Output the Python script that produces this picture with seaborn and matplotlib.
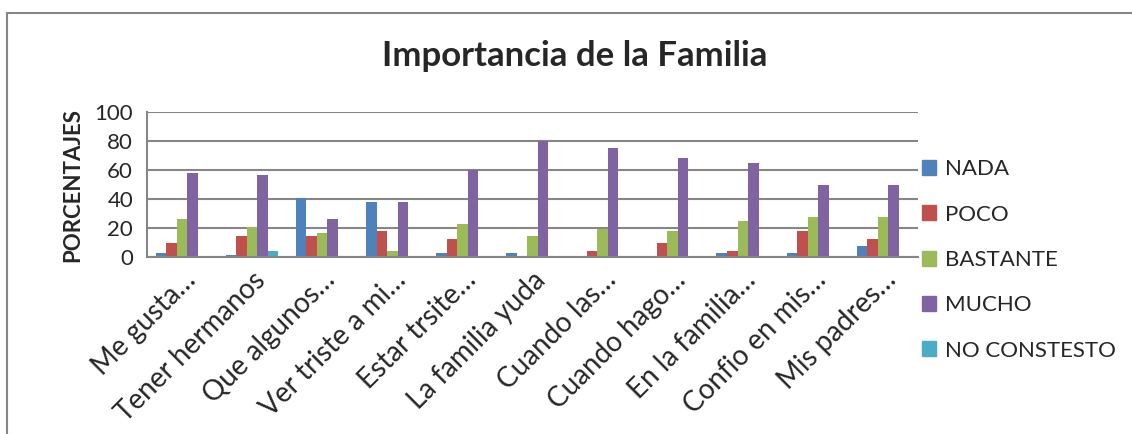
import pandas as pd
import matplotlib.pyplot as plt
import matplotlib.patches as mpatches
import seaborn as sns

# Datos
preguntas = ['Me gusta…', 'Tener hermanos', 'Que algunos…', 'Ver triste a mi…',
             'Estar trsite…', 'La familia yuda', 'Cuando las…', 'Cuando hago…',
             'En la familia…', 'Confio en mis…', 'Mis padres…']
respuestas = ['NADA', 'POCO', 'BASTANTE', 'MUCHO', 'NO CONSTESTO']
nada = [2.5, 1.2, 41, 38, 2.5, 2.5, 0, 1, 2.5, 2.5, 7.6]
poco = [9.5, 14.5, 14.5, 17.6, 12.7, 1, 4.2, 9.5, 4.2, 17.6, 12.7]
bastante = [26, 21, 16.5, 4.2, 22.7, 14.5, 19.5, 17.6, 24.5, 27.8, 27.8]
mucho = [58, 56.5, 26, 38, 60, 80, 75, 68, 65, 49.5, 49.5]
no_contesto = [1, 4.2, 0, 0, 0, 0, 0, 1, 1, 0, 0]
colores = ['#4F81BD', '#C0504D', '#9BBB59', '#8064A2', '#4BACC6']

valores = [nada, poco, bastante, mucho, no_contesto]
filas = []
for resp, serie in zip(respuestas, valores):
    for preg, v in zip(preguntas, serie):
        filas.append({'Pregunta': preg, 'Respuesta': resp, 'Porcentaje': v})
df = pd.DataFrame(filas)

sns.set_style('white')
plt.rcParams['font.family'] = ['Lato', 'DejaVu Sans']

fig = plt.figure(figsize=(11.32, 4.34), dpi=100)
ax = fig.add_axes([147 / 1132, 1 - 257 / 434, 771 / 1132, 145 / 434])

sns.barplot(data=df, x='Pregunta', y='Porcentaje', hue='Respuesta',
            palette=dict(zip(respuestas, colores)), width=0.75, gap=0,
            linewidth=0, saturation=1, legend=False, ax=ax)

ax.set_ylim(0, 100)
ax.set_xlim(-0.5, len(preguntas) - 0.5)
ax.set_yticks(range(0, 101, 20))
ax.yaxis.grid(True, color='#868686', linewidth=1.5)
ax.set_axisbelow(True)
for s in ['top', 'right']:
    ax.spines[s].set_visible(False)
for s in ['left', 'bottom']:
    ax.spines[s].set_color('#868686')
    ax.spines[s].set_linewidth(1.5)

ax.set_xticks([i - 0.5 for i in range(len(preguntas) + 1)], minor=True)
ax.tick_params(axis='x', which='minor', length=6, width=1.5, color='#868686', direction='out')
ax.tick_params(axis='x', which='major', length=0, pad=7, labelsize=20)
ax.tick_params(axis='y', length=6, width=1.5, color='#868686', direction='out', labelsize=16, pad=4)
plt.setp(ax.get_xticklabels(), rotation=45, ha='right', rotation_mode='anchor')

ax.set_xlabel('')
ax.set_ylabel('PORCENTAJES', fontsize=16, fontweight='bold', labelpad=8)

fig.text(575 / 1132, 1 - 56 / 434, 'Importancia de la Familia', ha='center', va='center',
         fontsize=25, fontweight='bold')

handles = [mpatches.Patch(color=c, label=r) for r, c in zip(respuestas, colores)]
fig.legend(handles=handles, loc='center left', bbox_to_anchor=(922 / 1132, 1 - 260 / 434),
           frameon=False, fontsize=16, handlelength=0.65, handleheight=0.65,
           handletextpad=0.4, labelspacing=1.14, borderpad=0, borderaxespad=0)

# Borde del area del grafico
fig.patches.append(mpatches.Rectangle((7 / 1132, -0.05), 1.2, 1 - 13 / 434 + 0.05,
                                      transform=fig.transFigure, fill=False,
                                      edgecolor='#868686', linewidth=1.5))

plt.savefig('out.png', dpi=100)
plt.close()
